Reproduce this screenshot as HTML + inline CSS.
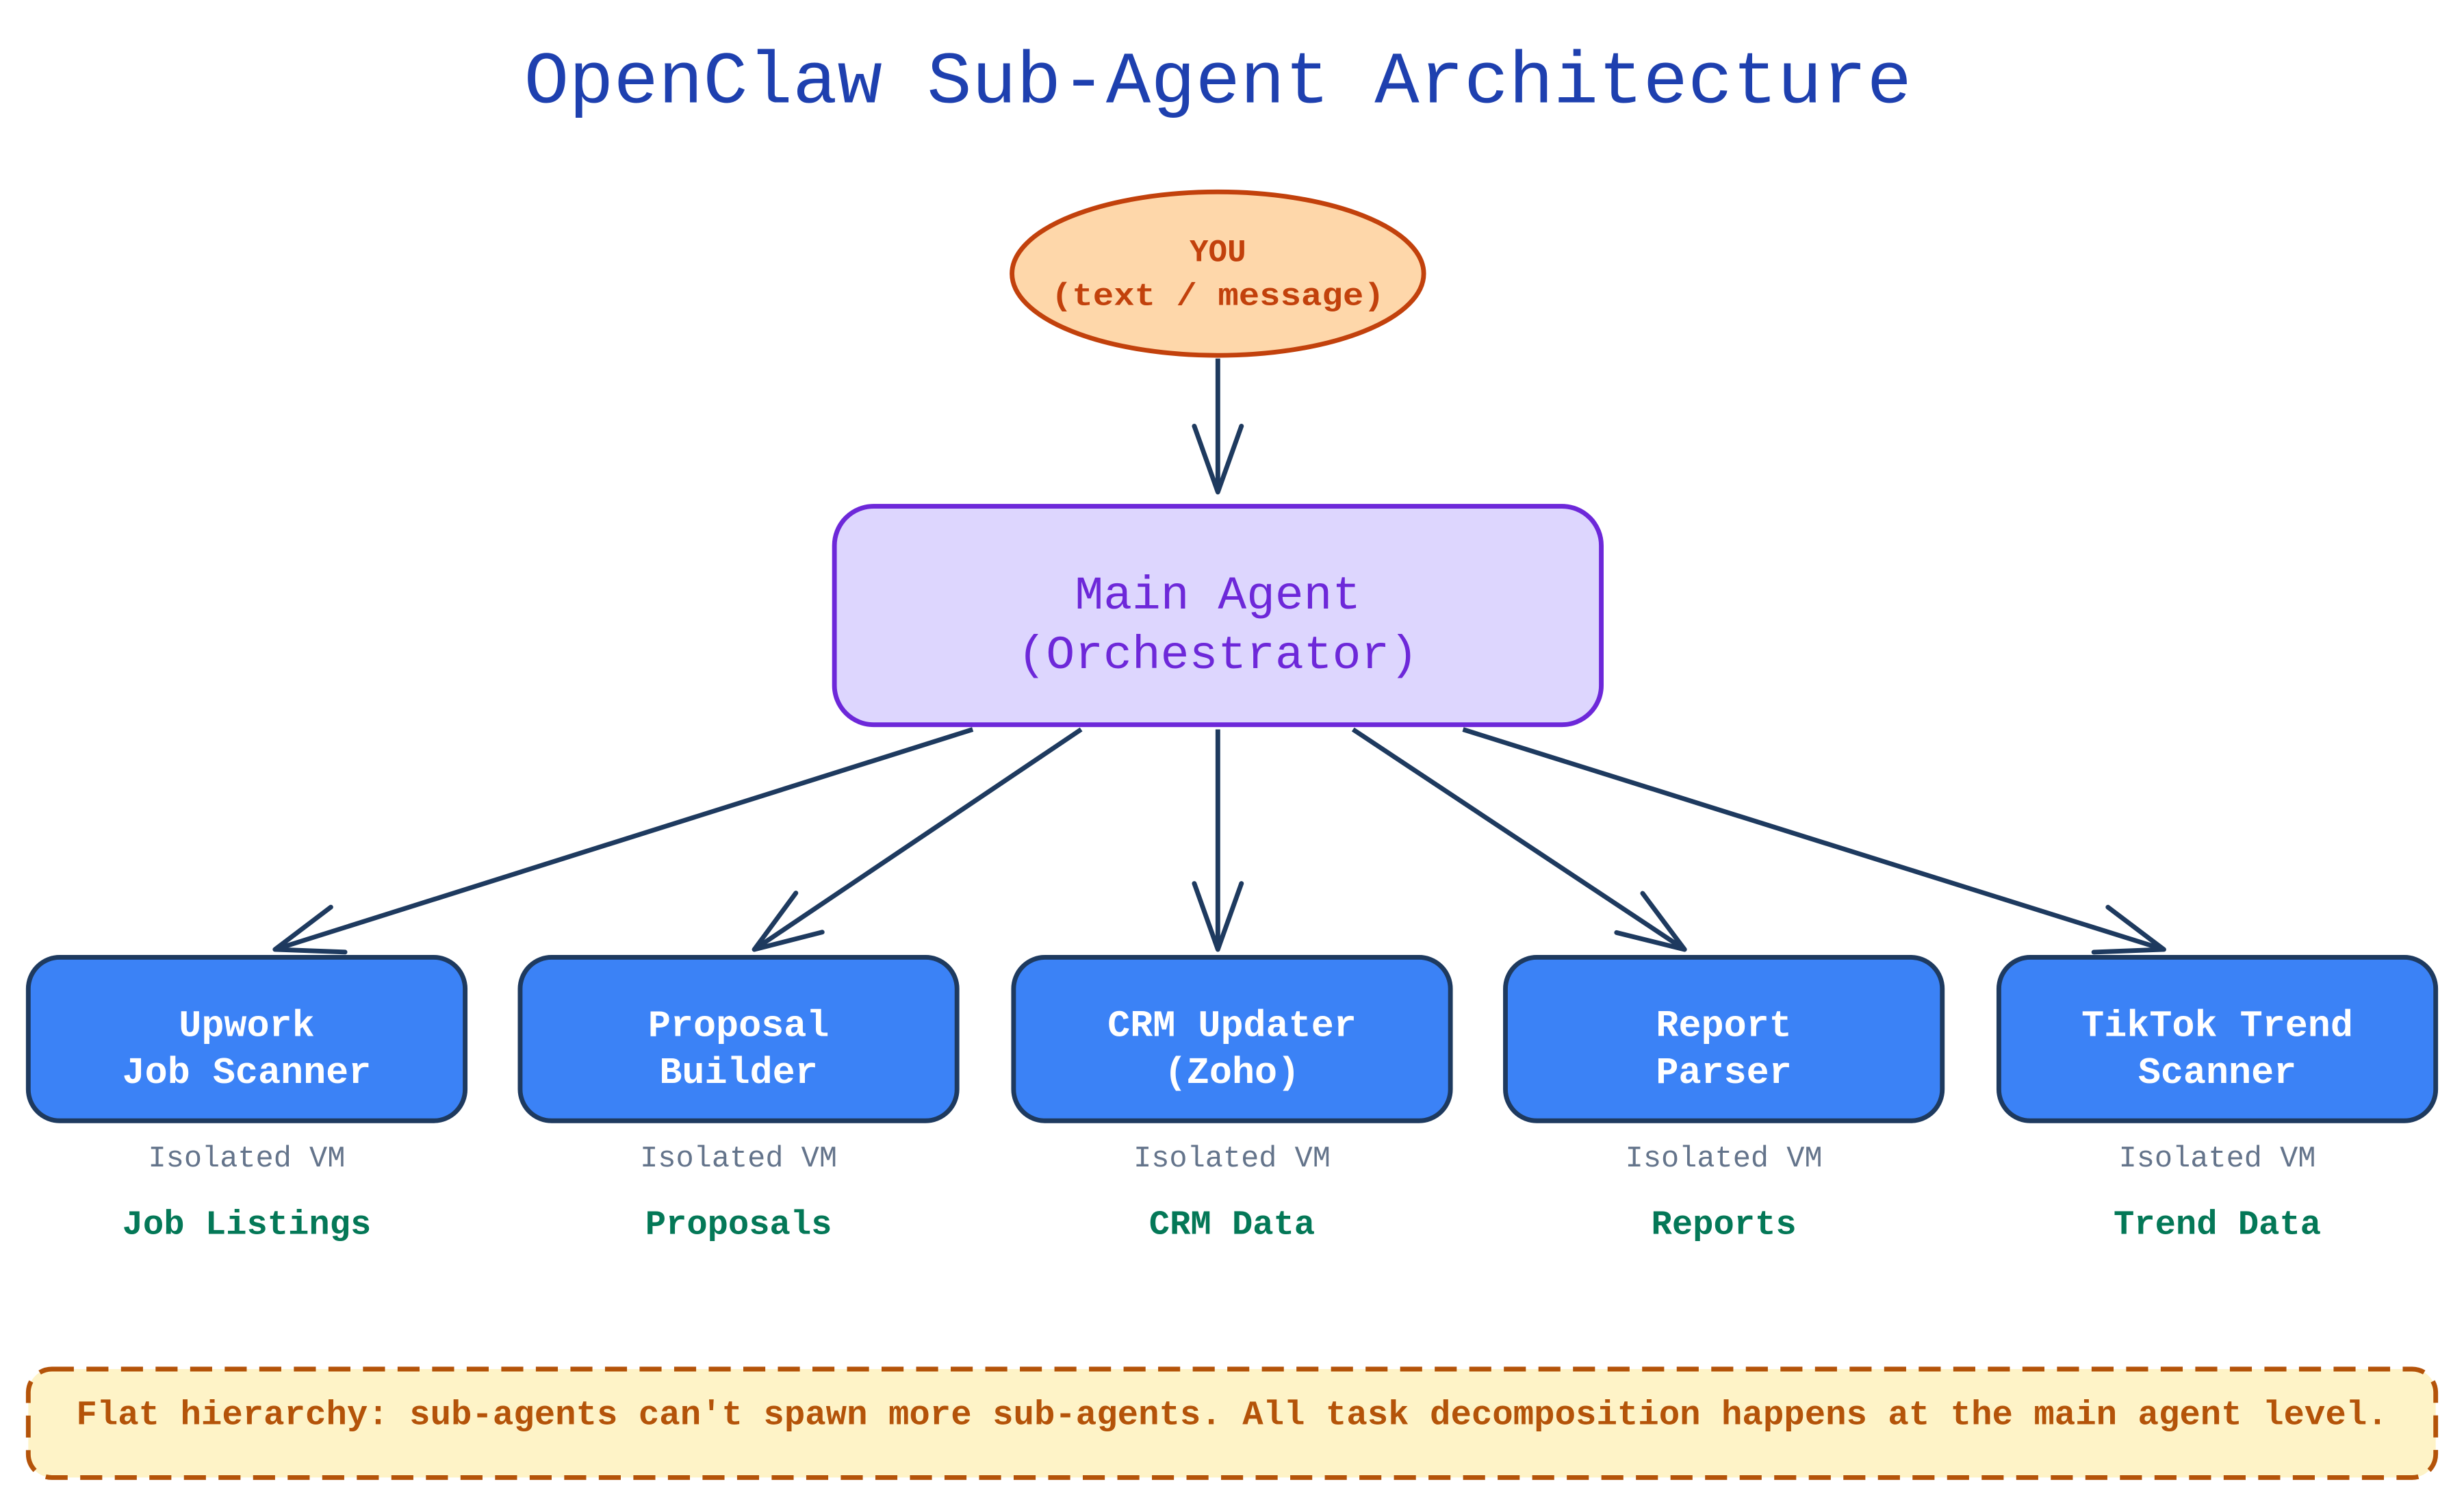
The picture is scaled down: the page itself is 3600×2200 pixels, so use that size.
<!DOCTYPE html>
<html><head><meta charset="utf-8"><style>html,body{margin:0;padding:0;background:#fff}svg{display:block}</style></head>
<body>
<svg width="3600" height="2200" viewBox="0 0 1568 958" xmlns="http://www.w3.org/2000/svg" font-family="'Liberation Mono', 'DejaVu Sans Mono', monospace">
<defs>
<marker id="a" markerUnits="userSpaceOnUse" markerWidth="60" markerHeight="60" viewBox="-50 -30 60 60" refX="0" refY="0" orient="auto">
<path d="M-42,-15 L0,0 L-42,15" fill="none" stroke="#1e3a5f" stroke-width="3" stroke-linecap="round" stroke-linejoin="round"/>
</marker>
</defs>
<rect width="1568" height="958" fill="#fff"/>
<text x="775" y="65" text-anchor="middle" font-size="47" fill="#1e40af" textLength="883" lengthAdjust="spacingAndGlyphs">OpenClaw Sub-Agent Architecture</text>

<ellipse cx="775" cy="174" rx="131" ry="52" fill="#fed7aa" stroke="#c2410c" stroke-width="3"/>
<text x="775" y="166" text-anchor="middle" font-size="20" fill="#c2410c" font-weight="bold">YOU</text>
<text x="775" y="194" text-anchor="middle" font-size="20" fill="#c2410c" font-weight="bold" textLength="212" lengthAdjust="spacingAndGlyphs">(text / message)</text>

<g stroke="#1e3a5f" stroke-width="3" fill="none" marker-end="url(#a)">
<line x1="775" y1="228" x2="775" y2="313"/>
<line x1="619" y1="464" x2="175" y2="604"/>
<line x1="688" y1="464" x2="480" y2="604"/>
<line x1="775" y1="464" x2="775" y2="604"/>
<line x1="861" y1="464" x2="1072" y2="604"/>
<line x1="931" y1="464" x2="1377" y2="604"/>
</g>

<rect x="531" y="322" width="488" height="139" rx="25" fill="#ddd6fe" stroke="#6d28d9" stroke-width="3"/>
<text x="775" y="387" text-anchor="middle" font-size="30" fill="#6d28d9" textLength="182" lengthAdjust="spacingAndGlyphs">Main Agent</text>
<text x="775" y="425" text-anchor="middle" font-size="30" fill="#6d28d9" textLength="255" lengthAdjust="spacingAndGlyphs">(Orchestrator)</text>

<g font-size="24" fill="#fff" text-anchor="middle" font-weight="bold">
<rect x="18" y="609" width="278" height="104" rx="20" fill="#3b82f6" stroke="#1e3a5f" stroke-width="3"/>
<text x="157" y="659">Upwork</text><text x="157" y="689">Job Scanner</text>
<rect x="331" y="609" width="278" height="104" rx="20" fill="#3b82f6" stroke="#1e3a5f" stroke-width="3"/>
<text x="470" y="659">Proposal</text><text x="470" y="689">Builder</text>
<rect x="645" y="609" width="278" height="104" rx="20" fill="#3b82f6" stroke="#1e3a5f" stroke-width="3"/>
<text x="784" y="659">CRM Updater</text><text x="784" y="689">(Zoho)</text>
<rect x="958" y="609" width="278" height="104" rx="20" fill="#3b82f6" stroke="#1e3a5f" stroke-width="3"/>
<text x="1097" y="659">Report</text><text x="1097" y="689">Parser</text>
<rect x="1272" y="609" width="278" height="104" rx="20" fill="#3b82f6" stroke="#1e3a5f" stroke-width="3"/>
<text x="1411" y="659">TikTok Trend</text><text x="1411" y="689">Scanner</text>
</g>

<g font-size="19" fill="#64748b" text-anchor="middle">
<text x="157" y="742">Isolated VM</text><text x="470" y="742">Isolated VM</text><text x="784" y="742">Isolated VM</text><text x="1097" y="742">Isolated VM</text><text x="1411" y="742">Isolated VM</text>
</g>
<g font-size="22" fill="#047857" text-anchor="middle" font-weight="bold">
<text x="157" y="785">Job Listings</text><text x="470" y="785">Proposals</text><text x="784" y="785">CRM Data</text><text x="1097" y="785">Reports</text><text x="1411" y="785">Trend Data</text>
</g>

<rect x="18" y="871" width="1532" height="69" rx="15" fill="#fef3c7" stroke="#b45309" stroke-width="3" stroke-dasharray="14 8"/>
<text x="784" y="906" text-anchor="middle" font-size="22" fill="#b45309" font-weight="bold" textLength="1471" lengthAdjust="spacingAndGlyphs">Flat hierarchy: sub-agents can't spawn more sub-agents. All task decomposition happens at the main agent level.</text>
</svg>
</body></html>
